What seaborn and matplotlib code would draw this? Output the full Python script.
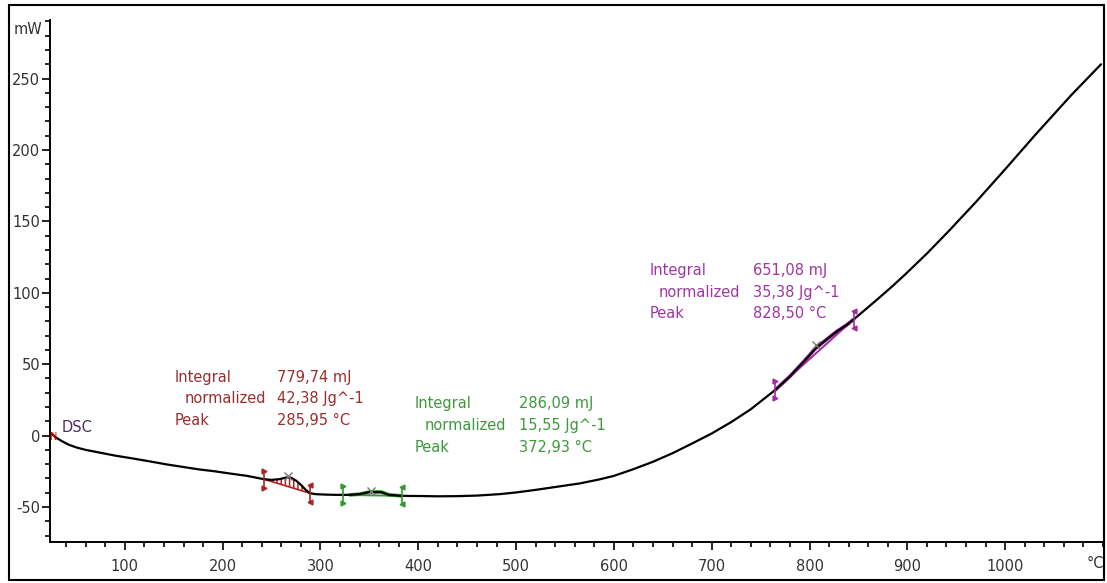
import matplotlib
matplotlib.use("Agg")
import matplotlib.pyplot as plt
import matplotlib.patches as patches
from matplotlib.ticker import MultipleLocator
import seaborn as sns
import pandas as pd

# DSC curve (temperature in degC, heat flow in mW)
temperature = [25, 30, 36, 43, 51, 60, 75, 90, 108, 125, 143, 160, 176, 192, 207,
               225, 242, 250, 258, 265, 270, 275, 280, 285, 289, 295, 305, 316,
               330, 340, 350, 362, 370, 383, 400, 420, 440, 460, 483, 500, 520,
               545, 565, 585, 600, 620, 640, 660, 680, 700, 720, 740, 765,
               780, 795, 806, 815, 828, 838, 845, 858, 870, 885, 898, 920, 942,
               970, 1000, 1030, 1067, 1098]
heat_flow = [1.5, -1.5, -4, -6.5, -8.4, -10, -12, -14, -16, -18, -20.2, -22, -23.7,
             -25, -26.5, -28.2, -30.5, -31, -30.5, -29.3, -29.5, -31.5, -34.5, -38,
             -40.3, -41, -41.3, -41.5, -41.5, -41, -39.5, -39.5, -41.5, -42.2, -42.3,
             -42.5, -42.4, -42, -41, -39.8, -38, -35.5, -33.5, -30.7, -28.2, -23.5,
             -18.3, -12.3, -5.5, 1.5, 9.5, 18.5, 32, 41.5, 52.5, 61, 66, 73, 77.5,
             81.3, 88.8, 95.8, 104.8, 113, 127.5, 143, 163.5, 186.5, 210, 238, 260]

# evaluated peaks: integration limits, peak marker and result text
peak_names = ["red", "green", "purple"]
peak_limits = [(242, 289), (323, 383), (765, 845)]
peak_marks = [(267, -28), (352, -39), (807, 63.5)]
peak_integral = ["779,74 mJ", "286,09 mJ", "651,08 mJ"]
peak_normalized = ["42,38 Jg^-1", "15,55 Jg^-1", "35,38 Jg^-1"]
peak_temp = ["285,95 °C", "372,93 °C", "828,50 °C"]
text_x = [151, 396, 636]
value_x = [256, 503, 742]
text_y = [41, 22.3, 115.8]

x_ticks = [100, 200, 300, 400, 500, 600, 700, 800, 900, 1000]
y_ticks = [-50, 0, 50, 100, 150, 200, 250]

colors = {"red": "#b02323", "green": "#2f9a2f", "purple": "#a22aa8"}
text_colors = {"red": "#9a2e2e", "green": "#3c9a3c", "purple": "#a035a6"}

sns.set_style("ticks")
plt.rcParams["font.family"] = ["DejaVu Sans"]
plt.rcParams["hatch.linewidth"] = 1.1
plt.rcParams["axes.unicode_minus"] = False

df = pd.DataFrame({"T": temperature, "P": heat_flow})

fig = plt.figure(figsize=(11.07, 5.83), dpi=100)
ax = fig.add_axes([50 / 1107, 41 / 583, 1053 / 1107, 522 / 583])

sns.lineplot(data=df, x="T", y="P", ax=ax, color="black", lw=1.6,
             sort=False, estimator=None, zorder=3)


def curve_part(lo, hi):
    part = df[(df["T"] >= lo) & (df["T"] <= hi)]
    return part["T"].tolist(), part["P"].tolist()


for name, (lo, hi), (mx, my) in zip(peak_names, peak_limits, peak_marks):
    c = colors[name]
    xs, ys = curve_part(lo, hi)
    y_lo, y_hi = ys[0], ys[-1]
    base = [y_lo + (y_hi - y_lo) * (t - lo) / (hi - lo) for t in xs]
    if name == "red":
        ax.fill_between(xs, base, ys, facecolor="none", edgecolor=c,
                        hatch="||||", lw=0, zorder=2)
        ax.plot([lo, hi], [y_lo, y_hi], color=c, lw=1.2, zorder=2)
    else:
        ax.plot(xs, ys, color=c, lw=2.6, zorder=2)
        ax.plot([lo, hi], [y_lo, y_hi], color=c, lw=1.4, zorder=2)
    # limit markers
    for t, y, m in [(lo, y_lo, ">"), (hi, y_hi, "<")]:
        ax.plot([t, t], [y - 6, y + 6], color=c, lw=1.2, zorder=4)
        ax.plot([t, t], [y - 6, y + 6], ls="none", marker=m, ms=3.5,
                color=c, zorder=4)
    ax.plot(mx, my, marker="x", ms=6, color="#777777", mew=1, zorder=5)

for i, name in enumerate(peak_names):
    c = text_colors[name]
    dy = 15.3
    ax.text(text_x[i], text_y[i], "Integral", color=c, fontsize=10.5, va="center")
    ax.text(text_x[i] + 10, text_y[i] - dy, "normalized", color=c, fontsize=10.5,
            va="center")
    ax.text(text_x[i], text_y[i] - 2 * dy, "Peak", color=c, fontsize=10.5,
            va="center")
    ax.text(value_x[i], text_y[i], peak_integral[i], color=c, fontsize=10.5,
            va="center")
    ax.text(value_x[i], text_y[i] - dy, peak_normalized[i], color=c, fontsize=10.5,
            va="center")
    ax.text(value_x[i], text_y[i] - 2 * dy, peak_temp[i], color=c, fontsize=10.5,
            va="center")

ax.text(35, 5.5, "DSC", color="#4e2a60", fontsize=10.5, va="center")
ax.text(24, -1, "N", color="red", fontsize=7, va="center")

ax.set_xlim(23.5, 1100)
ax.set_ylim(-74.5, 291)
ax.set_xticks(x_ticks)
ax.set_yticks(y_ticks)
ax.xaxis.set_minor_locator(MultipleLocator(20))
ax.yaxis.set_minor_locator(MultipleLocator(10))
ax.tick_params(which="major", direction="out", length=6, width=1.2,
               labelsize=10.5, labelcolor="#333333", color="black")
ax.tick_params(axis="x", which="major", pad=6)
ax.tick_params(axis="y", which="major", pad=1)
ax.tick_params(which="minor", direction="out", length=3.5, width=1.2, color="black")
ax.set_xlabel("")
ax.set_ylabel("")
sns.despine(ax=ax)
for s in ["left", "bottom"]:
    ax.spines[s].set_linewidth(1.4)
    ax.spines[s].set_color("black")

fig.text(42 / 1107, 1 - 30 / 583, "mW", ha="right", va="center",
         fontsize=10.5, color="#333333")
fig.text(1104 / 1107, 1 - 564 / 583, "°C", ha="right", va="center",
         fontsize=10.5, color="#333333")

fig.patches.append(patches.Rectangle((9 / 1107, 3 / 583), 1095 / 1107, 575 / 583,
                                     transform=fig.transFigure, fill=False,
                                     edgecolor="black", lw=1.5))

fig.savefig("out.png", dpi=100)
